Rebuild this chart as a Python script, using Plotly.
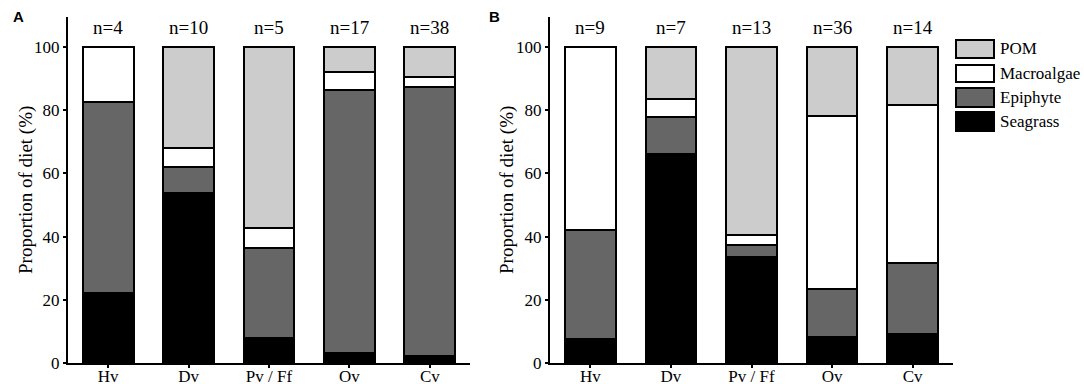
import plotly.graph_objects as go

categories = ["Hv", "Dv", "Pv / Ff", "Ov", "Cv"]
sources = ["Seagrass", "Epiphyte", "Macroalgae", "POM"]
legend_order = ["POM", "Macroalgae", "Epiphyte", "Seagrass"]
colors = {"Seagrass": "#000000", "Epiphyte": "#666666", "Macroalgae": "#ffffff", "POM": "#cccccc"}

n_a = ["n=4", "n=10", "n=5", "n=17", "n=38"]
seagrass_a = [22.0, 53.8, 7.8, 3.3, 2.2]
epiphyte_a = [60.5, 8.3, 28.5, 83.1, 85.2]
macroalgae_a = [17.5, 6.0, 6.5, 5.8, 3.2]
pom_a = [0.0, 31.9, 57.2, 7.8, 9.4]

n_b = ["n=9", "n=7", "n=13", "n=36", "n=14"]
seagrass_b = [7.7, 66.3, 33.4, 8.2, 9.1]
epiphyte_b = [34.4, 11.4, 4.1, 15.1, 22.7]
macroalgae_b = [57.9, 6.0, 3.1, 55.0, 50.0]
pom_b = [0.0, 16.3, 59.4, 21.7, 18.2]

y_ticks = [0, 20, 40, 60, 80, 100]

SERIF = "Liberation Serif"
SANS = "Liberation Sans"
W, H = 1084, 384
T, B = 17, 21

fig = go.Figure()
panels = [
    ("x", "y", {"Seagrass": seagrass_a, "Epiphyte": epiphyte_a, "Macroalgae": macroalgae_a, "POM": pom_a}, n_a),
    ("x2", "y2", {"Seagrass": seagrass_b, "Epiphyte": epiphyte_b, "Macroalgae": macroalgae_b, "POM": pom_b}, n_b),
]
for xa, ya, data, nlab in panels:
    for s in sources:
        fig.add_trace(go.Bar(
            x=categories, y=data[s], name=s, xaxis=xa, yaxis=ya,
            marker=dict(color=colors[s], line=dict(color="black", width=2)),
            showlegend=False, hoverinfo="skip",
        ))
    for c, t in zip(categories, nlab):
        fig.add_annotation(x=c, y=106.3, xref=xa, yref=ya, text=t, showarrow=False,
                           xanchor="center", yanchor="middle",
                           font=dict(family=SERIF, size=19, color="black"))

axis_common = dict(showline=True, linecolor="black", linewidth=2, ticks="outside",
                   ticklen=3, tickwidth=1.5, tickcolor="black", showgrid=False, zeroline=False,
                   automargin=False)
xaxis_common = dict(axis_common, ticklabelstandoff=-6,
                    tickfont=dict(family=SERIF, size=17, color="black"))
yaxis_common = dict(axis_common, range=[0, 109.5], tickvals=y_ticks,
                    tickfont=dict(family=SERIF, size=17, color="black"))

fig.update_layout(
    template="none",
    width=W, height=H,
    margin=dict(l=0, r=0, t=T, b=B),
    paper_bgcolor="white", plot_bgcolor="white",
    barmode="stack", bargap=0.37,
    xaxis=dict(xaxis_common, domain=[68 / W, 470 / W], anchor="y"),
    yaxis=dict(yaxis_common, anchor="x"),
    xaxis2=dict(xaxis_common, domain=[550 / W, 953 / W], anchor="y2"),
    yaxis2=dict(yaxis_common, anchor="x2"),
    showlegend=False,
)

ph = H - T - B
def py(p):
    return (H - B - p) / ph

# axis titles
for xpix in (26, 507):
    fig.add_annotation(x=xpix / W, y=0.5, xref="paper", yref="paper", text="Proportion of diet (%)",
                       textangle=-90, showarrow=False, xanchor="center", yanchor="middle",
                       font=dict(family=SERIF, size=19, color="black"))

# panel labels
for lab, xpix in (("A", 18), ("B", 494)):
    fig.add_annotation(x=xpix / W, y=py(16), xref="paper", yref="paper", text="<b>%s</b>" % lab,
                       showarrow=False, xanchor="center", yanchor="middle",
                       font=dict(family=SANS, size=15, color="black"))

# legend
leg_rows = [(40, 58), (65, 82), (88, 107), (112, 131)]
for s, (y0, y1) in zip(legend_order, leg_rows):
    fig.add_shape(type="rect", xref="paper", yref="paper", x0=956 / W, x1=994 / W, y0=py(y1), y1=py(y0),
                  fillcolor=colors[s], line=dict(color="black", width=2))
    fig.add_annotation(x=998 / W, y=py((y0 + y1) / 2), xref="paper", yref="paper", text=s,
                       xanchor="left", yanchor="middle", showarrow=False,
                       font=dict(family=SERIF, size=17, color="black"))

fig.write_html("out.html", config={"displayModeBar": False},
               post_script="document.body.style.margin='0';")
